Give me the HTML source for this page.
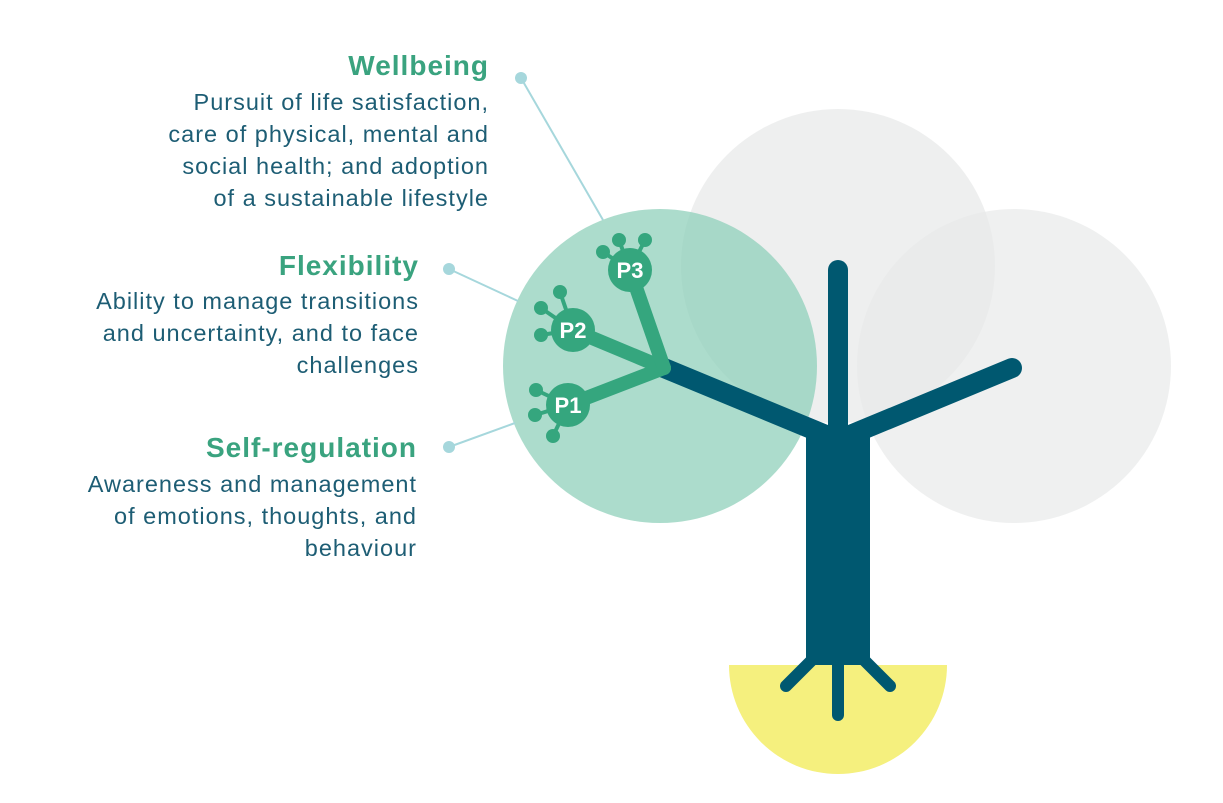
<!DOCTYPE html>
<html><head><meta charset="utf-8"><style>
html,body{margin:0;padding:0;background:#fff;}
svg{display:block;}
.t{font-family:"Liberation Sans",sans-serif;font-weight:bold;font-size:28px;letter-spacing:1px;fill:#3aa37f;}
.b{font-family:"Liberation Sans",sans-serif;font-size:23.5px;letter-spacing:1px;fill:#1d5d74;}
.p{font-family:"Liberation Sans",sans-serif;font-size:22px;font-weight:bold;fill:#fff;}
</style></head><body>
<svg width="1223" height="803" viewBox="0 0 1223 803" xmlns="http://www.w3.org/2000/svg">
<circle cx="838" cy="266" r="157" fill="#ebecec" opacity="0.85"/>
<circle cx="1014" cy="366" r="157" fill="#e8e9ea" opacity="0.7"/>
<circle cx="660" cy="366" r="157" fill="#8ccfb8" opacity="0.72"/>
<path d="M729 665 A109 109 0 0 0 947 665 Z" fill="#f5f07e"/>
<g stroke="#a6d7dc" stroke-width="2" fill="none">
<line x1="521" y1="78" x2="603" y2="220"/>
<line x1="449" y1="269" x2="518" y2="301"/>
<line x1="449" y1="447" x2="515" y2="423"/>
</g>
<g fill="#a6d7dc"><circle cx="521" cy="78" r="6"/><circle cx="449" cy="269" r="6"/><circle cx="449" cy="447" r="6"/></g>
<g stroke="#005870" stroke-linecap="round" fill="none">
<line x1="838" y1="270" x2="838" y2="440" stroke-width="20"/>
<line x1="838" y1="440" x2="664" y2="368" stroke-width="20"/>
<line x1="838" y1="440" x2="1012" y2="368" stroke-width="20"/>
<line x1="838" y1="660" x2="838" y2="715" stroke-width="12"/>
<line x1="812" y1="660" x2="786" y2="686" stroke-width="12"/>
<line x1="864" y1="660" x2="890" y2="686" stroke-width="12"/>
</g>
<rect x="806" y="425" width="64" height="240" fill="#005870"/>
<g stroke="#35a67e" stroke-linecap="round" fill="none" stroke-width="14">
<line x1="664" y1="368" x2="568" y2="405"/>
<line x1="664" y1="368" x2="573" y2="330"/>
<line x1="664" y1="368" x2="630" y2="270"/>
</g>
<g stroke="#35a67e" stroke-width="4">
<line x1="630" y1="270" x2="603" y2="252"/><line x1="630" y1="270" x2="619" y2="240"/><line x1="630" y1="270" x2="645" y2="240"/>
<line x1="573" y1="330" x2="541" y2="308"/><line x1="573" y1="330" x2="560" y2="292"/><line x1="573" y1="330" x2="541" y2="335"/>
<line x1="568" y1="405" x2="536" y2="390"/><line x1="568" y1="405" x2="535" y2="415"/><line x1="568" y1="405" x2="553" y2="436"/>
</g>
<g fill="#35a67e">
<circle cx="603" cy="252" r="7"/><circle cx="619" cy="240" r="7"/><circle cx="645" cy="240" r="7"/>
<circle cx="541" cy="308" r="7"/><circle cx="560" cy="292" r="7"/><circle cx="541" cy="335" r="7"/>
<circle cx="536" cy="390" r="7"/><circle cx="535" cy="415" r="7"/><circle cx="553" cy="436" r="7"/>
<circle cx="630" cy="270" r="22"/><circle cx="573" cy="330" r="22"/><circle cx="568" cy="405" r="22"/>
</g>
<text class="p" x="630" y="278" text-anchor="middle">P3</text>
<text class="p" x="573" y="338" text-anchor="middle">P2</text>
<text class="p" x="568" y="413" text-anchor="middle">P1</text>
<g text-anchor="end">
<text class="t" x="489" y="75">Wellbeing</text>
<text class="b" x="489" y="110">Pursuit of life satisfaction,</text>
<text class="b" x="489" y="142">care of physical, mental and</text>
<text class="b" x="489" y="174">social health; and adoption</text>
<text class="b" x="489" y="206">of a sustainable lifestyle</text>
<text class="t" x="419" y="275">Flexibility</text>
<text class="b" x="419" y="309">Ability to manage transitions</text>
<text class="b" x="419" y="341">and uncertainty, and to face</text>
<text class="b" x="419" y="373">challenges</text>
<text class="t" x="417" y="457">Self-regulation</text>
<text class="b" x="417" y="492">Awareness and management</text>
<text class="b" x="417" y="524">of emotions, thoughts, and</text>
<text class="b" x="417" y="556">behaviour</text>
</g>
</svg>
</body></html>
